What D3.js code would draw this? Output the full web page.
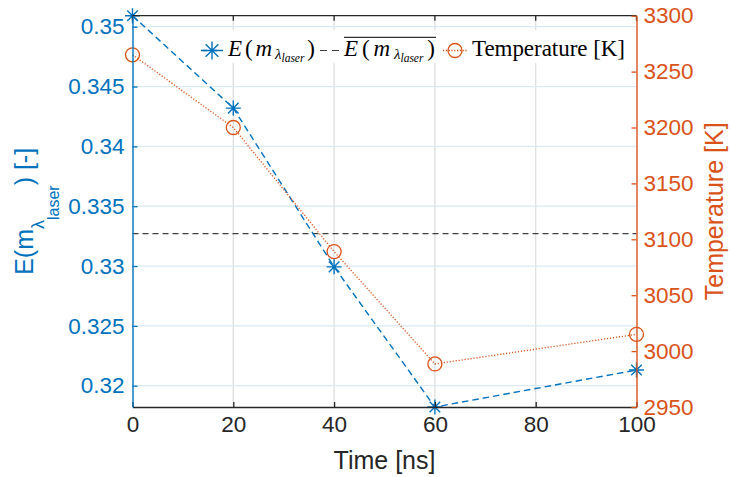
<!DOCTYPE html>
<html>
<head>
<meta charset="utf-8">
<script src="https://cdn.jsdelivr.net/npm/d3@7"></script>
<style>
  html, body { margin: 0; padding: 0; background: #fff; }
  svg { display: block; }
</style>
</head>
<body>
<script>
// ---- data ----
const time = [0, 20, 40, 60, 100];
const emissivity = [0.35092, 0.3432, 0.32993, 0.31822, 0.32131];
const temperature = [3265, 3200, 3089, 2988.5, 3015];
const xTicks = [0, 20, 40, 60, 80, 100];
const leftTicks = [0.32, 0.325, 0.33, 0.335, 0.34, 0.345, 0.35];
const rightTicks = [2950, 3000, 3050, 3100, 3150, 3200, 3250, 3300];
const xLabel = "Time [ns]";
const rightLabel = "Temperature [K]";
const legendTemp = "Temperature [K]";

const W = 731, H = 477;
const L = 132.5, R = 636.5, T = 15.7, B = 407;
const blue = "#0072BD", orange = "#D95319", dark = "#262626";
const tickFont = "Liberation Sans, Arial, sans-serif";

const svg = d3.select("body").append("svg").attr("width", W).attr("height", H);

const x = d3.scaleLinear().domain([0, 100]).range([L, R]);
const yL = d3.scaleLinear().domain(d3.extent(emissivity)).range([B, T]);
const yR = d3.scaleLinear().domain([2950, 3300]).range([B, T]);
const meanE = d3.mean(emissivity);

// grid
const grid = svg.append("g");
grid.selectAll("line.v").data(xTicks.filter(d => d > 0 && d < 100)).join("line")
  .attr("x1", d => x(d)).attr("x2", d => x(d)).attr("y1", T).attr("y2", B)
  .attr("stroke", "#dedede").attr("stroke-width", 1.3);
grid.selectAll("line.h").data(leftTicks).join("line")
  .attr("x1", L).attr("x2", R).attr("y1", d => yL(d)).attr("y2", d => yL(d))
  .attr("stroke", "#d9eaf5").attr("stroke-width", 1.3);

// mean line
svg.append("line").attr("x1", L).attr("x2", R)
  .attr("y1", yL(meanE)).attr("y2", yL(meanE))
  .attr("stroke", "#404040").attr("stroke-width", 1.2).attr("stroke-dasharray", "6,4");

// emissivity line
const lineE = d3.line().x((d, i) => x(time[i])).y(d => yL(d));
svg.append("path").datum(emissivity).attr("d", lineE)
  .attr("fill", "none").attr("stroke", blue).attr("stroke-width", 1.4)
  .attr("stroke-dasharray", "6.5,4");

// temperature line
const lineT = d3.line().x((d, i) => x(time[i])).y(d => yR(d));
svg.append("path").datum(temperature).attr("d", lineT)
  .attr("fill", "none").attr("stroke", orange).attr("stroke-width", 1.3)
  .attr("stroke-dasharray", "1.2,1.8");

// markers
function starPath(cx, cy, r) {
  const d = r * 0.7071;
  return `M${cx - r},${cy}L${cx + r},${cy}M${cx},${cy - r}L${cx},${cy + r}` +
         `M${cx - d},${cy - d}L${cx + d},${cy + d}M${cx - d},${cy + d}L${cx + d},${cy - d}`;
}
svg.append("g").selectAll("path").data(emissivity).join("path")
  .attr("d", (d, i) => starPath(x(time[i]), yL(d), 7.5))
  .attr("stroke", blue).attr("stroke-width", 1.4).attr("fill", "none");
svg.append("g").selectAll("circle").data(temperature).join("circle")
  .attr("cx", (d, i) => x(time[i])).attr("cy", d => yR(d)).attr("r", 7)
  .attr("fill", "none").attr("stroke", orange).attr("stroke-width", 1.3);

// top box line
svg.append("line").attr("x1", L).attr("x2", R).attr("y1", T).attr("y2", T)
  .attr("stroke", dark).attr("stroke-width", 1.3);
svg.append("g").selectAll("line").data(xTicks).join("line")
  .attr("x1", d => x(d)).attr("x2", d => x(d)).attr("y1", T).attr("y2", T + 5)
  .attr("stroke", dark).attr("stroke-width", 1.3);

// axes
function styleAxis(g, color) {
  g.select(".domain").attr("stroke", color).attr("stroke-width", 1.4);
  g.selectAll(".tick line").attr("stroke", color).attr("stroke-width", 1.3);
  g.selectAll(".tick text").attr("fill", color)
    .attr("font-family", tickFont).attr("font-size", "22.5px");
}
const gx = svg.append("g").attr("transform", `translate(0,${B})`)
  .call(d3.axisBottom(x).tickValues(xTicks).tickSizeInner(-5).tickSizeOuter(0).tickPadding(9)
    .tickFormat(d3.format("d")));
styleAxis(gx, dark);
const gl = svg.append("g").attr("transform", `translate(${L},0)`)
  .call(d3.axisLeft(yL).tickValues(leftTicks).tickSizeInner(-5).tickSizeOuter(0).tickPadding(8)
    .tickFormat(d3.format(".3~f")));
styleAxis(gl, blue);
const gr = svg.append("g").attr("transform", `translate(${R},0)`)
  .call(d3.axisRight(yR).tickValues(rightTicks).tickSizeInner(-5).tickSizeOuter(0).tickPadding(7)
    .tickFormat(d3.format("d")));
styleAxis(gr, orange);

// axis labels
svg.append("text").attr("x", (L + R) / 2).attr("y", 469).attr("text-anchor", "middle")
  .attr("font-family", tickFont).attr("font-size", "25px").attr("fill", dark).text(xLabel);
svg.append("text").attr("transform", `translate(723,${(T + B) / 2}) rotate(-90)`)
  .attr("text-anchor", "middle").attr("font-family", tickFont).attr("font-size", "25px")
  .attr("fill", orange).text(rightLabel);
const ly = svg.append("text").attr("transform", `translate(33,${(T + B) / 2}) rotate(-90)`)
  .attr("text-anchor", "middle").attr("font-family", tickFont).attr("font-size", "25px")
  .attr("fill", blue);
ly.append("tspan").text("E(m");
ly.append("tspan").attr("dy", 11).attr("font-size", "18px").text("λ");
ly.append("tspan").attr("dy", 15).attr("font-size", "16px").text("laser");
ly.append("tspan").attr("dy", -26).text(") [-]");

// legend
const lg = svg.append("g");
lg.append("rect").attr("x", 197).attr("y", 30).attr("width", 436).attr("height", 33).attr("fill", "#fff");
const serif = "Liberation Serif, Times New Roman, serif";
const legY = 56, mkY = 50.5;
function mathLabel(x0, width) {
  const t = lg.append("text").attr("x", x0).attr("y", legY)
    .attr("font-family", serif).attr("font-size", "23px").attr("fill", "#000");
  t.append("tspan").attr("font-style", "italic").text("E");
  const p1 = t.append("tspan").text("(");
  const p2 = t.append("tspan").attr("font-style", "italic").text("m");
  const p3 = t.append("tspan").attr("dy", 3).attr("font-size", "15px").attr("font-style", "italic").text("λ");
  t.append("tspan").attr("dy", 3).attr("font-size", "11.5px").attr("font-style", "italic").text("laser");
  const p4 = t.append("tspan").attr("dy", -6).text(")");
  const natural = t.node().getComputedTextLength();
  const extra = Math.max(0, (width - natural) / 4);
  [p1, p2, p3, p4].forEach(p => p.attr("dx", extra));
}
// entry 1
lg.append("line").attr("x1", 201).attr("x2", 223).attr("y1", mkY).attr("y2", mkY)
  .attr("stroke", blue).attr("stroke-width", 1.4).attr("stroke-dasharray", "6,4");
lg.append("path").attr("d", starPath(212, mkY, 9)).attr("stroke", blue).attr("stroke-width", 1.4);
mathLabel(228, 87);
// entry 2
lg.append("line").attr("x1", 320).attr("x2", 340).attr("y1", mkY).attr("y2", mkY)
  .attr("stroke", "#404040").attr("stroke-width", 1.2).attr("stroke-dasharray", "7,5");
mathLabel(344, 91);
lg.append("line").attr("x1", 344).attr("x2", 436).attr("y1", 37.3).attr("y2", 37.3)
  .attr("stroke", "#000").attr("stroke-width", 1);
// entry 3
lg.append("line").attr("x1", 443).attr("x2", 467).attr("y1", mkY).attr("y2", mkY)
  .attr("stroke", orange).attr("stroke-width", 1.3).attr("stroke-dasharray", "1.2,1.6");
lg.append("circle").attr("cx", 455).attr("cy", mkY).attr("r", 7)
  .attr("fill", "none").attr("stroke", orange).attr("stroke-width", 1.3);
lg.append("text").attr("x", 472).attr("y", legY).attr("font-family", serif)
  .attr("font-size", "23px").attr("fill", "#000").attr("textLength", 153)
  .attr("lengthAdjust", "spacing").text(legendTemp);
</script>
</body>
</html>
